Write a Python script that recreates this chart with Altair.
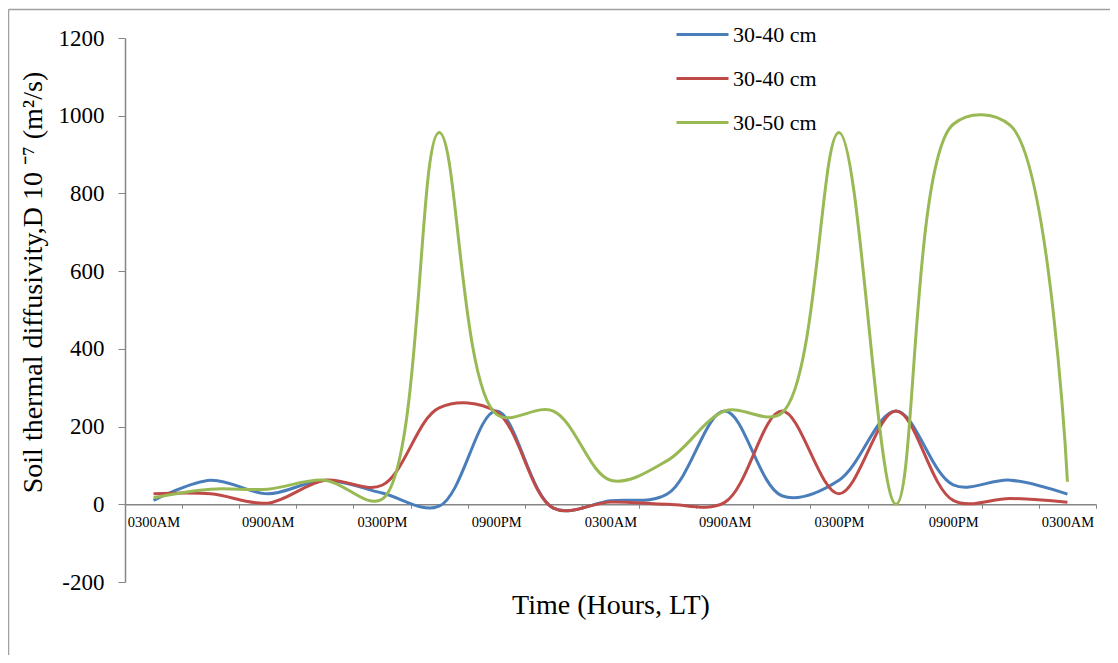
import altair as alt
import pandas as pd

FONT = "Liberation Serif"

times = ["0300AM", "0600AM", "0900AM", "1200PM", "0300PM", "0600PM", "0900PM", "1200AM",
         "0300AM", "0600AM", "0900AM", "1200PM", "0300PM", "0600PM", "0900PM", "1200AM",
         "0300AM"]
blue = [10, 62, 27, 62, 29, -5, 240, -10, 9, 27, 240, 22, 62, 240, 50, 62, 26]
red = [27, 27, 3, 62, 49, 248, 238, -10, 6, 0, 5, 240, 27, 240, 10, 15, 5]
green = [17, 39, 39, 62, 13, 957, 232, 240, 62, 113, 240, 235, 957, 0, 978, 975, 58]

series_keys = ["s1", "s2", "s3"]
series_labels = ["30-40 cm", "30-40 cm", "30-50 cm"]
colors = ["#4A7EBB", "#BE4B48", "#98B954"]
y_ticks = [-200, 0, 200, 400, 600, 800, 1000, 1200]

rows = []
for key, vals in zip(series_keys, [blue, red, green]):
    for i, (t, v) in enumerate(zip(times, vals)):
        rows.append({"idx": i, "time": t, "series": key, "value": v})
df = pd.DataFrame(rows)

W, H = 971, 544
n = len(times)
x_tick_vals = [i - 0.5 for i in range(n + 1)]
arr = "[" + ",".join("'" + t + "'" for t in times) + "]"
x_label_expr = (
    f"(round(datum.value+0.5) % 2 == 0 && round(datum.value+0.5) <= {n-1}) ? "
    f"{arr}[round(datum.value+0.5)] : ''"
)
legend_expr = " : ".join(
    f"datum.label == '{k}' ? '{l}'" for k, l in zip(series_keys[:-1], series_labels[:-1])
) + f" : '{series_labels[-1]}'"

axis_gray = "#868686"

lines = alt.Chart(df).mark_line(interpolate="catmull-rom", strokeWidth=3).encode(
    x=alt.X(
        "idx:Q",
        scale=alt.Scale(domain=[-0.5, n - 0.5], nice=False, zero=False),
        axis=alt.Axis(
            values=x_tick_vals,
            labelExpr=x_label_expr,
            labelOffset=W / n / 2,
            labelFlush=False,
            labelOverlap=False,
            labelFont=FONT,
            labelFontSize=14.5,
            labelColor="black",
            labelPadding=7,
            tickSize=4,
            tickColor=axis_gray,
            domainColor=axis_gray,
            domainWidth=1.5,
            grid=False,
            offset=-H / 7,
            title="Time (Hours, LT)",
            titleFont=FONT,
            titleFontSize=28,
            titleFontWeight="normal",
            titleColor="black",
            titleX=W / 2,
            titleY=101,
            titleBaseline="middle",
        ),
    ),
    y=alt.Y(
        "value:Q",
        scale=alt.Scale(domain=[-200, 1200], nice=False),
        axis=alt.Axis(
            values=y_ticks,
            labelExpr="datum.value + ''",
            labelFont=FONT,
            labelFontSize=23,
            labelColor="black",
            labelPadding=14,
            tickSize=7,
            tickColor=axis_gray,
            domainColor=axis_gray,
            domainWidth=1.5,
            grid=False,
            title="Soil thermal diffusivity,D 10 \u207b\u2077 (m\u00b2/s)",
            titleFont=FONT,
            titleFontSize=28,
            titleFontWeight="normal",
            titleColor="black",
            titleAngle=-90,
            titleX=-92,
            titleY=244,
            titleAlign="center",
            titleBaseline="middle",
        ),
    ),
    color=alt.Color(
        "series:N",
        scale=alt.Scale(domain=series_keys, range=colors),
        legend=alt.Legend(
            title=None,
            orient="none",
            legendX=550,
            legendY=-31,
            symbolType="stroke",
            symbolSize=2704,
            symbolStrokeWidth=3,
            labelFont=FONT,
            labelFontSize=22,
            labelColor="black",
            labelOffset=3,
            rowPadding=5,
            labelExpr=legend_expr,
        ),
    ),
    order=alt.Order("idx:Q"),
)

frame_df = pd.DataFrame({"a": [0]})
frame_left = alt.Chart(frame_df).mark_rule(color="#a0a0a0", strokeWidth=1.5).encode(
    x=alt.value(-116.5), y=alt.value(-28.5), y2=alt.value(640)
)
frame_top = alt.Chart(frame_df).mark_rule(color="#a0a0a0", strokeWidth=1.5).encode(
    x=alt.value(-116.5), x2=alt.value(1000), y=alt.value(-28.5)
)

chart = alt.layer(frame_left, frame_top, lines).properties(
    width=W,
    height=H,
    padding={"left": 117, "top": 30, "right": 14, "bottom": 73},
    autosize="none",
    background="white",
).configure_view(stroke=None)

chart.save("out.html", embed_options={"renderer": "svg", "actions": False})
